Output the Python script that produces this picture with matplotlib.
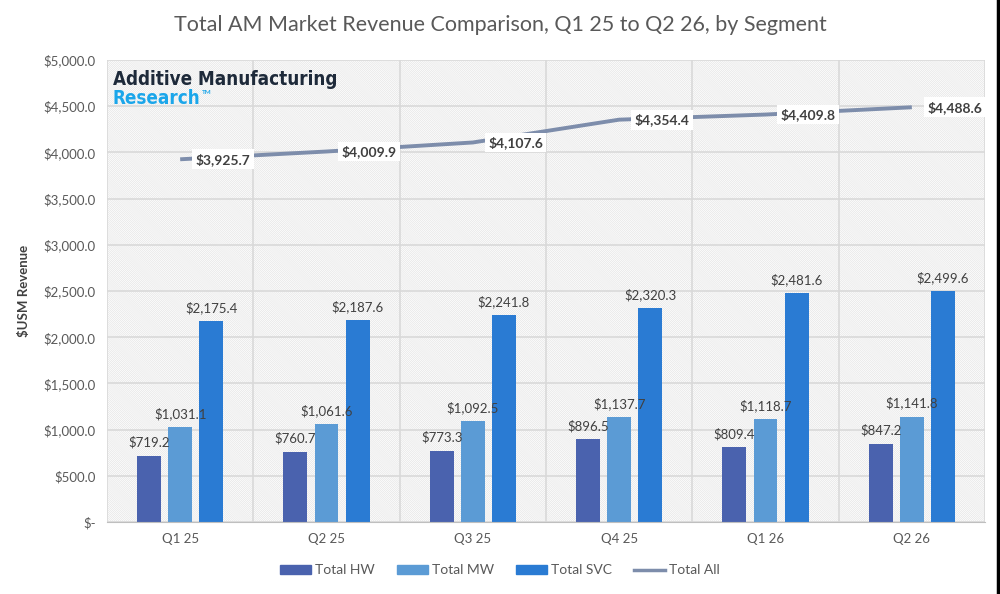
import matplotlib
matplotlib.use("Agg")
import matplotlib.pyplot as plt
from matplotlib.patches import Rectangle, Patch
from matplotlib.lines import Line2D
import numpy as np

plt.rcParams['font.family'] = ['Lato', 'DejaVu Sans']
plt.rcParams['hatch.linewidth'] = 0.4
plt.rcParams['hatch.color'] = '#e0e0e0'

quarters = ["Q1 25", "Q2 25", "Q3 25", "Q4 25", "Q1 26", "Q2 26"]
hw = [719.2, 760.7, 773.3, 896.5, 809.4, 847.2]
mw = [1031.1, 1061.6, 1092.5, 1137.7, 1118.7, 1141.8]
svc = [2175.4, 2187.6, 2241.8, 2320.3, 2481.6, 2499.6]
total = [3925.7, 4009.9, 4107.6, 4354.4, 4409.8, 4488.6]
yticks = [0, 500, 1000, 1500, 2000, 2500, 3000, 3500, 4000, 4500, 5000]

C_HW, C_MW, C_SVC, C_ALL = "#4a62ae", "#5b9bd5", "#2a7bd3", "#7d8dab"
TXT = "#595959"

fig = plt.figure(figsize=(10, 5.94), dpi=100)
ax = fig.add_axes([0.107, 0.121, 0.878, 0.778])

x = np.arange(len(quarters))
ax.set_xlim(-0.5, len(quarters) - 0.5)
ax.set_ylim(0, 5000)

# hatched plot background
ax.add_patch(Rectangle((0, 0), 1, 1, transform=ax.transAxes, facecolor="white",
                       edgecolor="#e0e0e0", hatch="\\" * 17, linewidth=0, zorder=0))
for v in yticks:
    ax.axhline(v, color="#d9d9d9", lw=1.2, zorder=1)
for b in np.arange(-0.5, len(quarters)):
    ax.axvline(b, color="#d9d9d9", lw=1.2, zorder=1)

w, off = 0.164, 0.212
series = [(hw, C_HW, -off, "Total HW"), (mw, C_MW, 0, "Total MW"), (svc, C_SVC, off, "Total SVC")]
for vals, col, dx, lab in series:
    bars = ax.bar(x + dx, vals, w, color=col, zorder=3, label=lab)
    for xi, v in zip(x + dx, vals):
        ax.annotate(f"${v:,.1f}", (xi, v), xytext=(0, 5), textcoords="offset points",
                    ha="center", va="bottom", fontsize=9.5, color="#404040", zorder=5)

ax.plot(x, total, color=C_ALL, lw=2.8, zorder=4, solid_capstyle="butt")
for xi, v in zip(x, total):
    ax.annotate(f"${v:,.1f}", (xi, v), xytext=(11, 0), textcoords="offset points",
                ha="left", va="center", fontsize=10, fontweight="bold", color="#404040",
                bbox=dict(facecolor="white", edgecolor="none", pad=2.5), zorder=6)

ax.set_xticks(x)
ax.set_xticklabels(quarters, fontsize=9.5, color=TXT)
ax.set_yticks(yticks)
ax.set_yticklabels(["$-"] + [f"${v:,.1f}" for v in yticks[1:]], fontsize=9.5, color=TXT)
ax.tick_params(axis="both", length=0, pad=8)
for s in ["top", "right", "left"]:
    ax.spines[s].set_visible(False)
ax.spines["bottom"].set_color("#bfbfbf")
ax.spines["bottom"].set_zorder(4)
ax.set_ylabel("$USM Revenue", fontsize=9.5, fontweight="bold", color="#404040", labelpad=10)

fig.suptitle("Total AM Market Revenue Comparison, Q1 25 to Q2 26, by Segment",
             x=0.5, y=0.975, fontsize=15.5, color=TXT)

handles = [Patch(color=C_HW), Patch(color=C_MW), Patch(color=C_SVC),
           Line2D([0], [0], color=C_ALL, lw=2.5)]
fig.legend(handles, ["Total HW", "Total MW", "Total SVC", "Total All"], loc="center",
           bbox_to_anchor=(0.5, 0.04), ncol=4, frameon=False, fontsize=10,
           labelcolor=TXT, handlelength=2.2, handleheight=0.6, columnspacing=1.6,
           handletextpad=0.3)

# logo text (condensed face if one is installed)
logo1 = fig.text(0.113, 1 - 85 / 594, "Additive Manufacturing", fontsize=20, fontweight="bold",
                 color="#1e2a3a", family=["DejaVu Sans"], fontstretch="condensed", zorder=7)
logo2 = fig.text(0.113, 1 - 104 / 594, "Research", fontsize=16, fontweight="bold",
                 color="#1ba6ea", family=["DejaVu Sans"], fontstretch="condensed", zorder=7)
fig.canvas.draw()
r = fig.canvas.get_renderer()
for t, target in [(logo1, 225), (logo2, 88)]:
    bb = t.get_window_extent(r)
    t.set_fontsize(t.get_fontsize() * target / bb.width)
fig.canvas.draw()
bb = logo2.get_window_extent(r)
fig.text(bb.x1 / 1000 + 0.001, 1 - 94 / 594, "TM", fontsize=4.5, color="#1ba6ea",
         fontweight="bold", zorder=7)

fig.add_artist(Line2D([0.998, 0.998], [0, 1], color="black", lw=2.5, transform=fig.transFigure))

fig.savefig("out.png", dpi=100)
